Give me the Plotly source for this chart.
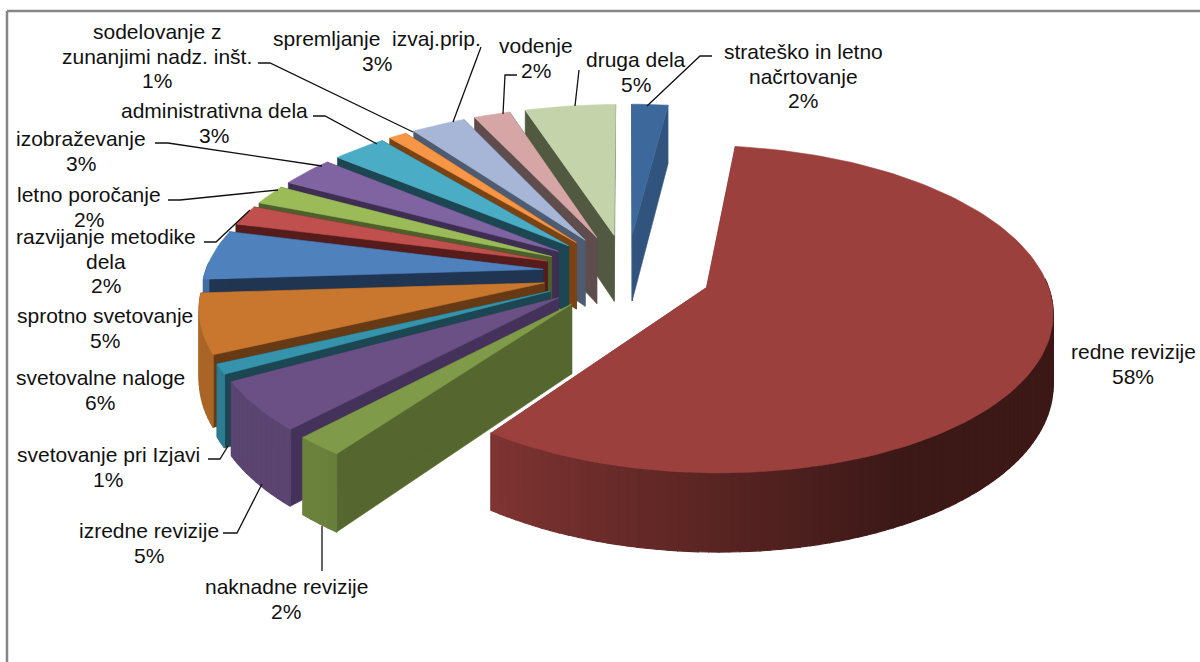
import numpy as np
import plotly.graph_objects as go

# --- data -------------------------------------------------------------
categories = ["strateško in letno<br>načrtovanje", "redne revizije", "naknadne revizije",
              "izredne revizije", "svetovanje pri Izjavi", "svetovalne naloge",
              "sprotno svetovanje", "razvijanje metodike<br>dela", "letno poročanje",
              "izobraževanje", "administrativna dela", "sodelovanje z<br>zunanjimi nadz. inšt.",
              "spremljanje  izvaj.prip.", "vodenje", "druga dela"]
values = [2, 58, 2, 5, 1, 6, 5, 2, 2, 3, 3, 1, 3, 2, 5]

# --- styles -----------------------------------------------------------
top_colors = ["#3D689B", "#9B403D", "#7F9A48", "#6A5084", "#3593AC", "#C9772F", "#4F81BD",
              "#C0504D", "#9BBB59", "#8064A2", "#4BACC6", "#F79646", "#A7B6D6", "#D5A6A5", "#C4D3AA"]
wall_colors = ["#30547E", "#7F3432", "#55662F", "#45325B", "#1C4651", "#653A14", "#1F3552",
               "#551C1B", "#4D5F2B", "#3E2E52", "#1C4651", "#7A4313", "#4F5B70", "#5F4C4C", "#515A41"]
label_xy = [(803, 76), (1133, 364), (286, 599), (149, 543), (108, 467), (100, 390), (105, 328),
            (106, 261), (89, 207), (81, 151), (214, 123), (157, 56), (377, 51), (536, 58), (636, 72)]
leaders = [[(712, 56), (700, 56), (647, 106)], [], [(322, 526), (322, 571)],
           [(223, 533), (237, 533), (262, 484)], [(208, 459), (220, 459), (228, 446)], [], [],
           [(204, 242), (216, 242), (250, 210)], [(168, 200), (180, 200), (278, 190)],
           [(155, 143), (168, 143), (322, 166)], [(313, 116), (325, 116), (377, 144)],
           [(258, 63), (270, 63), (413, 132)], [(481, 47), (453, 122)],
           [(517, 75), (505, 75), (503, 114)], [(579, 70), (575, 106)]]
text_color = "#111111"
frame_color = "#868686"
FONT_SIZE, LINE_GAP = 21, 24.5

# --- projection of the 3D pie --------------------------------------------
CX, CY, A, B, P, DEPTH, EXPLODE = 627, 273, 338, 157, 0.13, 68, 0.25


def project(X, Y, z=0.0):
    w = 1 + P * Y
    return CX + A * X / w, CY + (-B * Y + z) / w


def shade(hex_color, f):
    rgb = [int(hex_color[i:i + 2], 16) for i in (1, 3, 5)]
    return "rgb({},{},{})".format(*[int(c * f) for c in rgb])


def outer_shade(theta):
    return float(np.clip(0.39 + (theta - 153) * (0.82 - 0.39) / 63, 0.39, 0.85))


def poly(xs, ys, color, width=0.6):
    return go.Scatter(x=list(xs), y=list(ys), mode="lines", fill="toself", fillcolor=color,
                      line=dict(color=color, width=width), hoverinfo="skip", showlegend=False)


edges = np.cumsum([0] + values) * 3.6
slices = []
for i, v in enumerate(values):
    t0, t1 = edges[i], edges[i + 1]
    mid = np.radians((t0 + t1) / 2)
    slices.append((t0, t1, EXPLODE * np.sin(mid), EXPLODE * np.cos(mid), i))

traces = []
for t0, t1, ox, oy, i in sorted(slices, key=lambda s: -s[3]):
    n = max(3, int((t1 - t0) / 1.5) + 1)
    th = np.linspace(t0, t1, n)
    Xs = ox + np.sin(np.radians(th))
    Ys = oy + np.cos(np.radians(th))
    # radial walls
    for k in (0, -1):
        xt, yt = project(np.array([ox, Xs[k]]), np.array([oy, Ys[k]]))
        xb, yb = project(np.array([ox, Xs[k]]), np.array([oy, Ys[k]]), DEPTH)
        traces.append(poly([xt[0], xt[1], xb[1], xb[0], xt[0]], [yt[0], yt[1], yb[1], yb[0], yt[0]], wall_colors[i]))
    # outer wall (front-facing part only), split in strips for the shading
    for j in range(n - 1):
        if np.cos(np.radians(th[j:j + 2].mean())) > 0.05:
            continue
        sel = np.array([j, j + 1])
        xt, yt = project(Xs[sel], Ys[sel])
        xb, yb = project(Xs[sel], Ys[sel], DEPTH)
        col = shade(top_colors[i], outer_shade(th[sel].mean()))
        traces.append(poly(np.r_[xt, xb[::-1], xt[0]], np.r_[yt, yb[::-1], yt[0]], col, 1.2))
    # top face
    xt, yt = project(np.r_[ox, Xs, ox], np.r_[oy, Ys, oy])
    traces.append(poly(xt, yt, top_colors[i]))

fig = go.Figure(traces)

for pts in leaders:
    if pts:
        fig.add_trace(go.Scatter(x=[p[0] for p in pts], y=[p[1] for p in pts], mode="lines",
                                 line=dict(color="#111111", width=1.3), hoverinfo="skip", showlegend=False))

for cat, v, (lx, ly) in zip(categories, values, label_xy):
    lines = cat.split("<br>") + [f"{v}%"]
    y0 = ly - LINE_GAP * (len(lines) - 1) / 2
    for k, line in enumerate(lines):
        fig.add_annotation(x=lx, y=y0 + k * LINE_GAP, text=line, showarrow=False, xanchor="center", yanchor="middle",
                           align="center", font=dict(family="Liberation Sans", size=FONT_SIZE, color=text_color))

fig.add_shape(type="line", x0=7, y0=662, x1=7, y1=11, line=dict(color=frame_color, width=2.5))
fig.add_shape(type="line", x0=7, y0=11, x1=1200, y1=11, line=dict(color=frame_color, width=2.5))

fig.update_layout(width=1200, height=662, margin=dict(l=0, r=0, t=0, b=0), paper_bgcolor="white",
                  plot_bgcolor="white", showlegend=False,
                  xaxis=dict(range=[0, 1200], visible=False, fixedrange=True),
                  yaxis=dict(range=[662, 0], visible=False, fixedrange=True))
fig.write_html("out.html", config={"displayModeBar": False},
               post_script="document.body.style.margin='0';document.body.style.overflow='hidden';")
